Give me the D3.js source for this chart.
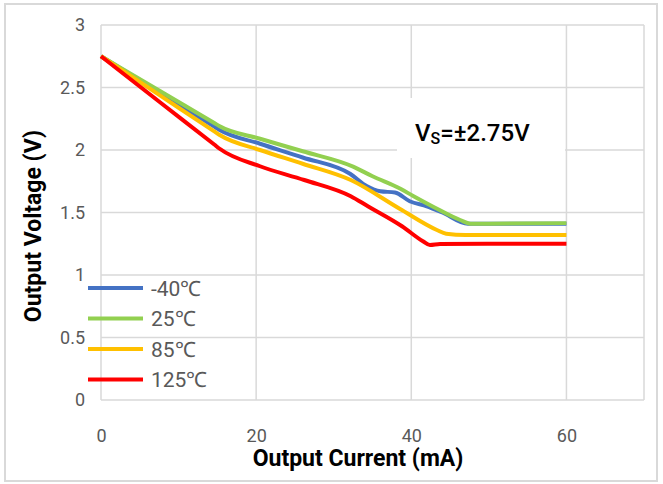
<!DOCTYPE html>
<html>
<head>
<meta charset="utf-8">
<script src="https://cdn.jsdelivr.net/npm/d3@7"></script>
<style>
  body { margin: 0; background: #fff; }
  svg { display: block; }
</style>
</head>
<body>
<div id="chart"></div>
<script>
// data
const seriesNames = ['-40\u2103', '25\u2103', '85\u2103', '125\u2103'];
const seriesColors = ['#4472C4', '#92D050', '#FFC000', '#FF0000'];

const currentM40 = [0, 7.6, 14.6, 15.3, 20.5, 26, 32.1, 34.3, 36, 37.9, 39.8, 42, 44, 47.3, 50, 60];
const voltageM40 = [2.75, 2.457, 2.187, 2.16, 2.05, 1.94, 1.81, 1.71, 1.67, 1.66, 1.59, 1.55, 1.50, 1.41, 1.41, 1.41];

const current25 = [0, 7.6, 14.6, 15.3, 20.5, 26, 32.5, 35, 38.6, 40.3, 43, 46.3, 47.8, 50, 60];
const voltage25 = [2.75, 2.472, 2.216, 2.19, 2.09, 1.99, 1.867, 1.79, 1.69, 1.63, 1.54, 1.44, 1.41, 1.41, 1.415];

const current85 = [0, 7.6, 14.6, 15.3, 20.5, 26, 32.2, 38.5, 43.3, 44.5, 47, 60];
const voltage85 = [2.75, 2.437, 2.149, 2.12, 2.00, 1.89, 1.76, 1.53, 1.36, 1.33, 1.32, 1.32];

const current125 = [0, 7.6, 14.6, 15.3, 20.5, 26.2, 32.2, 34.4, 38.8, 41.5, 42.4, 43.7, 50, 60];
const voltage125 = [2.75, 2.382, 2.044, 2.01, 1.87, 1.76, 1.63, 1.55, 1.39, 1.27, 1.24, 1.248, 1.25, 1.25];

const xTicks = [0, 20, 40, 60];
const yTicks = [0, 0.5, 1, 1.5, 2, 2.5, 3];

const allCurrents = [currentM40, current25, current85, current125];
const allVoltages = [voltageM40, voltage25, voltage85, voltage125];

const width = 663, height = 484;
const plot = { left: 101, right: 644, top: 25, bottom: 400 };

const svg = d3.select('#chart').append('svg')
  .attr('width', width)
  .attr('height', height);

// outer frame
svg.append('rect')
  .attr('x', 5).attr('y', 4)
  .attr('width', 652).attr('height', 477)
  .attr('fill', 'none')
  .attr('stroke', '#d9d9d9')
  .attr('stroke-width', 2);

const x = d3.scaleLinear().domain([0, 70]).range([plot.left, plot.right]);
const y = d3.scaleLinear().domain([0, 3]).range([plot.bottom, plot.top]);

const grid = svg.append('g');
grid.selectAll('.hgrid').data(yTicks).join('line')
  .attr('x1', plot.left).attr('x2', plot.right)
  .attr('y1', d => y(d)).attr('y2', d => y(d))
  .attr('stroke', '#d9d9d9').attr('stroke-width', 1.5);
grid.selectAll('.vgrid').data(xTicks.concat([70])).join('line')
  .attr('y1', plot.top).attr('y2', plot.bottom)
  .attr('x1', d => x(d)).attr('x2', d => x(d))
  .attr('stroke', '#d9d9d9').attr('stroke-width', 1.5);

// axes (labels only)
const tickFont = 'Roboto, sans-serif';
const xAxis = svg.append('g')
  .attr('transform', `translate(0, ${plot.bottom + 29})`)
  .call(d3.axisBottom(x).tickValues(xTicks).tickSize(0).tickPadding(0));
const yAxis = svg.append('g')
  .attr('transform', `translate(${plot.left - 16}, 0)`)
  .call(d3.axisLeft(y).tickValues(yTicks).tickSize(0).tickPadding(0).tickFormat(d3.format('')));
[xAxis, yAxis].forEach(a => {
  a.select('.domain').remove();
  a.selectAll('.tick text')
    .style('fill', '#595959')
    .style('font-family', tickFont)
    .style('font-size', '18px');
});

// annotation box
svg.append('rect')
  .attr('x', 397).attr('y', 98)
  .attr('width', 168).attr('height', 60)
  .attr('fill', '#fff');
const note = svg.append('text')
  .attr('x', 415).attr('y', 141)
  .style('font-family', 'Roboto, sans-serif')
  .style('font-weight', 500)
  .style('font-size', '24px')
  .style('fill', '#000');
note.append('tspan').text('V');
note.append('tspan').attr('dy', 3).style('font-size', '16px').text('S');
note.append('tspan').attr('dy', -3).text('=\u00b12.75V');

// curves
const line = d3.line()
  .x(d => x(d[0]))
  .y(d => y(d[1]))
  .curve(d3.curveMonotoneX);

seriesNames.forEach((name, i) => {
  const pts = allCurrents[i].map((c, j) => [c, allVoltages[i][j]]);
  svg.append('path')
    .datum(pts)
    .attr('d', line)
    .attr('fill', 'none')
    .attr('stroke', seriesColors[i])
    .attr('stroke-width', 4)
    .attr('stroke-linejoin', 'round');
});

// legend
const legend = svg.append('g').attr('transform', 'translate(88, 288)');
seriesNames.forEach((name, i) => {
  const g = legend.append('g').attr('transform', `translate(0, ${i * 30.5})`);
  g.append('line')
    .attr('x1', 0).attr('x2', 55)
    .attr('stroke', seriesColors[i])
    .attr('stroke-width', 4);
  g.append('text')
    .attr('x', 63).attr('y', 7.5)
    .style('font-family', tickFont)
    .style('font-size', '21px')
    .style('fill', '#595959')
    .text(name);
});

// axis titles
svg.append('text')
  .attr('x', 358).attr('y', 466)
  .attr('text-anchor', 'middle')
  .style('font-family', 'Roboto, sans-serif')
  .style('font-weight', 700)
  .style('font-size', '23px')
  .text('Output Current (mA)');

svg.append('text')
  .attr('transform', 'translate(41, 226) rotate(-90)')
  .attr('text-anchor', 'middle')
  .style('font-family', 'Roboto, sans-serif')
  .style('font-weight', 700)
  .style('font-size', '23px')
  .text('Output Voltage (V)');
</script>
</body>
</html>
